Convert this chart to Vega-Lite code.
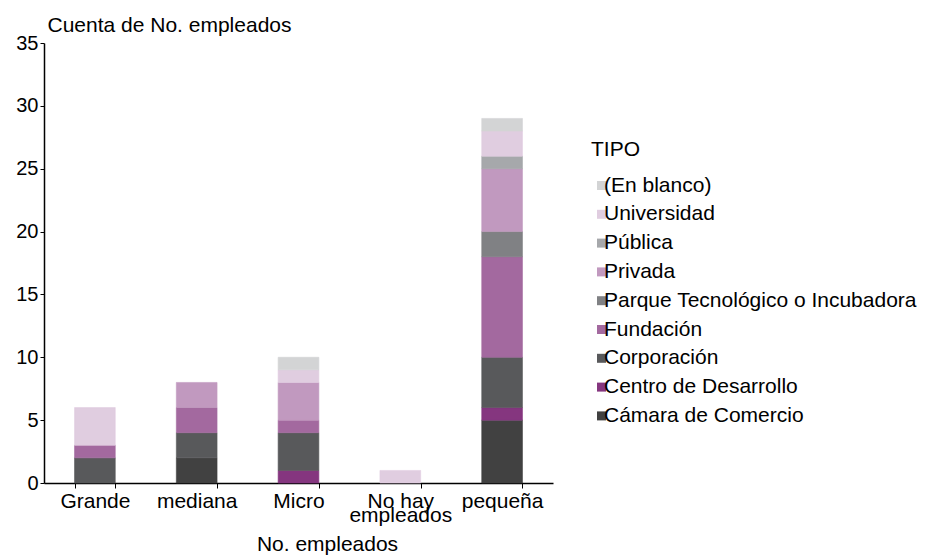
{
  "$schema": "https://vega.github.io/schema/vega-lite/v6.json",
  "width": 509,
  "height": 440,
  "autosize": "none",
  "padding": {"left": 44, "top": 43, "right": 372, "bottom": 73},
  "background": "white",
  "config": {
    "font": "Liberation Sans",
    "view": {"stroke": null},
    "axis": {"labelColor": "black", "titleColor": "black", "domainColor": "black", "tickColor": "black", "grid": false, "labelFont": "Liberation Sans", "titleFont": "Liberation Sans", "titleFontWeight": "normal"},
    "legend": {"labelFont": "Liberation Sans", "titleFont": "Liberation Sans", "titleFontWeight": "normal", "labelColor": "black", "titleColor": "black"}
  },
  "data": {
    "values": [
      {"empleados": "Grande", "TIPO": "Corporación", "cuenta": 2, "ord": 3},
      {"empleados": "Grande", "TIPO": "Fundación", "cuenta": 1, "ord": 4},
      {"empleados": "Grande", "TIPO": "Universidad", "cuenta": 3, "ord": 8},
      {"empleados": "mediana", "TIPO": "Cámara de Comercio", "cuenta": 2, "ord": 1},
      {"empleados": "mediana", "TIPO": "Corporación", "cuenta": 2, "ord": 3},
      {"empleados": "mediana", "TIPO": "Fundación", "cuenta": 2, "ord": 4},
      {"empleados": "mediana", "TIPO": "Privada", "cuenta": 2, "ord": 6},
      {"empleados": "Micro", "TIPO": "Centro de Desarrollo", "cuenta": 1, "ord": 2},
      {"empleados": "Micro", "TIPO": "Corporación", "cuenta": 3, "ord": 3},
      {"empleados": "Micro", "TIPO": "Fundación", "cuenta": 1, "ord": 4},
      {"empleados": "Micro", "TIPO": "Privada", "cuenta": 3, "ord": 6},
      {"empleados": "Micro", "TIPO": "Universidad", "cuenta": 1, "ord": 8},
      {"empleados": "Micro", "TIPO": "(En blanco)", "cuenta": 1, "ord": 9},
      {"empleados": "No hay empleados", "TIPO": "Universidad", "cuenta": 1, "ord": 8},
      {"empleados": "pequeña", "TIPO": "Cámara de Comercio", "cuenta": 5, "ord": 1},
      {"empleados": "pequeña", "TIPO": "Centro de Desarrollo", "cuenta": 1, "ord": 2},
      {"empleados": "pequeña", "TIPO": "Corporación", "cuenta": 4, "ord": 3},
      {"empleados": "pequeña", "TIPO": "Fundación", "cuenta": 8, "ord": 4},
      {"empleados": "pequeña", "TIPO": "Parque Tecnológico o Incubadora", "cuenta": 2, "ord": 5},
      {"empleados": "pequeña", "TIPO": "Privada", "cuenta": 5, "ord": 6},
      {"empleados": "pequeña", "TIPO": "Pública", "cuenta": 1, "ord": 7},
      {"empleados": "pequeña", "TIPO": "Universidad", "cuenta": 2, "ord": 8},
      {"empleados": "pequeña", "TIPO": "(En blanco)", "cuenta": 1, "ord": 9}
    ]
  },
  "mark": {"type": "bar", "strokeWidth": 0.6},
  "encoding": {
    "x": {
      "field": "empleados",
      "type": "nominal",
      "sort": ["Grande", "mediana", "Micro", "No hay empleados", "pequeña"],
      "scale": {"paddingInner": 0.6, "paddingOuter": 0.3},
      "axis": {
        "title": "No. empleados",
        "titleFontSize": 21,
        "titleX": 283,
        "titleY": 67,
        "titleBaseline": "alphabetic",
        "labelFontSize": 21,
        "labelAngle": 0,
        "labelPadding": 2,
        "labelLineHeight": 14,
        "labelExpr": "datum.value == 'No hay empleados' ? ['No hay', 'empleados'] : datum.value",
        "tickBand": "extent",
        "tickSize": 5,
        "domainWidth": 1.5
      }
    },
    "y": {
      "field": "cuenta",
      "type": "quantitative",
      "aggregate": "sum",
      "stack": "zero",
      "scale": {"domain": [0, 35], "nice": false},
      "axis": {
        "title": "Cuenta de No. empleados",
        "values": [0, 5, 10, 15, 20, 25, 30, 35],
        "titleAngle": 0,
        "titleAlign": "left",
        "titleBaseline": "alphabetic",
        "titleX": 3,
        "titleY": -12,
        "titleFontSize": 21,
        "labelFontSize": 20,
        "tickSize": 4,
        "labelPadding": 2,
        "domainWidth": 1.5
      }
    },
    "color": {
      "field": "TIPO",
      "type": "nominal",
      "scale": {
        "domain": ["(En blanco)", "Universidad", "Pública", "Privada", "Parque Tecnológico o Incubadora", "Fundación", "Corporación", "Centro de Desarrollo", "Cámara de Comercio"],
        "range": ["#d3d4d5", "#e0cde0", "#a6a8ab", "#c199bf", "#808184", "#a3699f", "#58595b", "#85367f", "#414141"]
      },
      "legend": {
        "orient": "none",
        "legendX": 547,
        "legendY": 96,
        "title": "TIPO",
        "titleFontSize": 21,
        "titlePadding": 15,
        "labelFontSize": 21,
        "labelLimit": 0,
        "symbolType": "square",
        "symbolSize": 81,
        "symbolStrokeWidth": 0,
        "symbolOffset": 0,
        "labelOffset": -8,
        "rowPadding": 6.8
      }
    },
    "stroke": {
      "field": "TIPO",
      "type": "nominal",
      "scale": {
        "domain": ["(En blanco)", "Universidad", "Pública", "Privada", "Parque Tecnológico o Incubadora", "Fundación", "Corporación", "Centro de Desarrollo", "Cámara de Comercio"],
        "range": ["#d3d4d5", "#e0cde0", "#a6a8ab", "#c199bf", "#808184", "#a3699f", "#58595b", "#85367f", "#414141"]
      },
      "legend": null
    },
    "order": {"field": "ord", "type": "quantitative", "sort": "ascending"}
  }
}
